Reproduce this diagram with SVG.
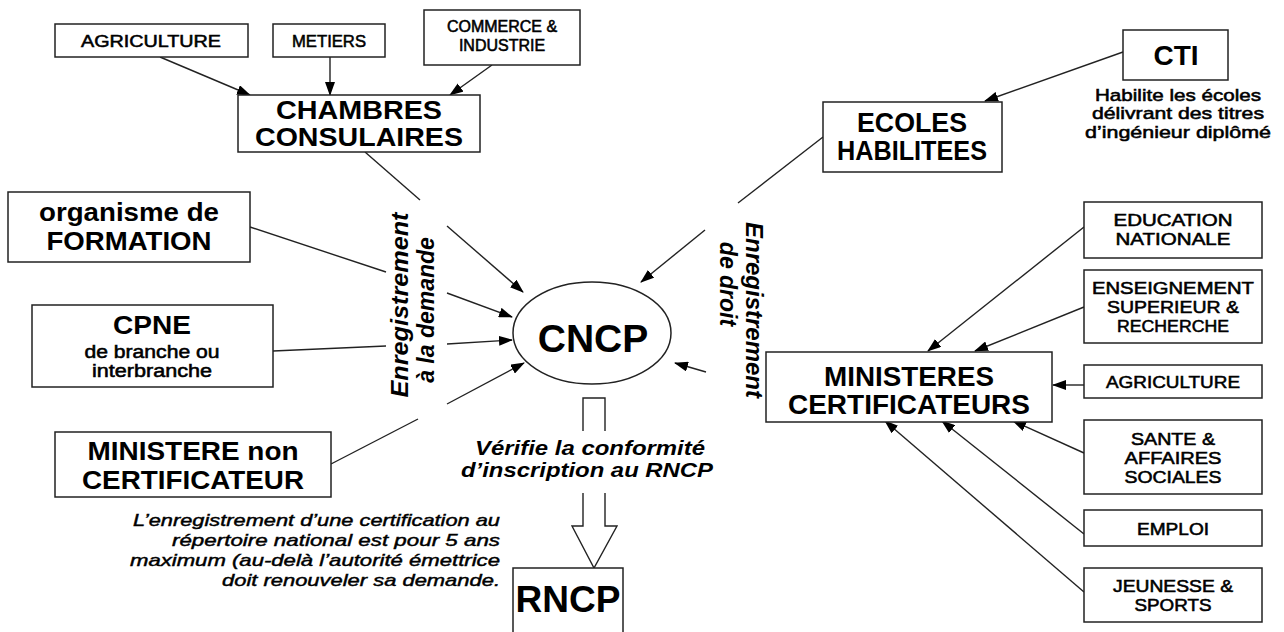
<svg xmlns="http://www.w3.org/2000/svg" width="1284" height="632" viewBox="0 0 1284 632">
<defs>
<style>
.box{fill:#fff;stroke:#222;stroke-width:1.5}
.ln{fill:none;stroke:#222;stroke-width:1.4}
.ar{fill:none;stroke:#222;stroke-width:1.4;marker-end:url(#ah)}
text{font-family:"Liberation Sans",Arial,sans-serif;fill:#000;text-anchor:middle}
.b{font-weight:bold}
.sm{font-weight:normal;stroke:#000;stroke-width:0.55}
.bi{font-weight:bold;font-style:italic}
.it{font-style:italic;stroke:#000;stroke-width:0.45;text-anchor:end}
</style>
<marker id="ah" markerWidth="14" markerHeight="10" refX="13" refY="5" orient="auto" markerUnits="userSpaceOnUse"><path d="M0,0 L14,5 L0,10 z" fill="#000"/></marker>
</defs>
<rect width="1284" height="632" fill="#fff"/>

<g id="connectors">
<line class="ar" x1="160" y1="57" x2="250" y2="95"/>
<line class="ar" x1="330" y1="57" x2="330" y2="95"/>
<line class="ar" x1="492" y1="65" x2="450" y2="95"/>
<line class="ln" x1="365" y1="152" x2="420" y2="200"/>
<line class="ar" x1="447" y1="226" x2="523" y2="292"/>
<line class="ln" x1="250" y1="227" x2="386" y2="272"/>
<line class="ar" x1="447" y1="293" x2="512" y2="317"/>
<line class="ln" x1="273" y1="351" x2="386" y2="346"/>
<line class="ar" x1="447" y1="344" x2="512" y2="340"/>
<line class="ln" x1="331" y1="464" x2="418" y2="419"/>
<line class="ar" x1="447" y1="404" x2="524" y2="363"/>
<line class="ln" x1="823" y1="137" x2="738" y2="203"/>
<line class="ar" x1="705" y1="230" x2="641" y2="282"/>
<line class="ar" x1="706" y1="372" x2="675" y2="363"/>
<line class="ar" x1="1123" y1="52" x2="985" y2="101"/>
<line class="ar" x1="1084" y1="227" x2="928" y2="351"/>
<line class="ar" x1="1084" y1="307" x2="975" y2="351"/>
<line class="ar" x1="1084" y1="385" x2="1053" y2="385"/>
<line class="ar" x1="1084" y1="453" x2="1013" y2="421"/>
<line class="ar" x1="1084" y1="534" x2="942" y2="421"/>
<line class="ar" x1="1084" y1="592" x2="885" y2="421"/>
<path class="ln" d="M583,431 V398 H605 V431"/>
<path class="ln" d="M583,493 V526 H572 L594,568 L617,526 H605 V493"/>
</g>

<g id="agriculture-top"><rect class="box" x="55" y="24" width="193" height="33"/><text class="sm" x="151" y="47" font-size="17" textLength="140" lengthAdjust="spacingAndGlyphs">AGRICULTURE</text></g>
<g id="metiers"><rect class="box" x="273" y="24" width="112" height="33"/><text class="sm" x="329" y="47" font-size="17" textLength="74" lengthAdjust="spacingAndGlyphs">METIERS</text></g>
<g id="commerce"><rect class="box" x="424" y="10" width="156" height="55"/><text class="sm" x="502" y="32" font-size="16">COMMERCE &amp;</text><text class="sm" x="502" y="51" font-size="16">INDUSTRIE</text></g>
<g id="chambres"><rect class="box" x="238" y="95" width="242" height="57"/><text class="b" x="359" y="119" font-size="26" textLength="166" lengthAdjust="spacingAndGlyphs">CHAMBRES</text><text class="b" x="359" y="146" font-size="26" textLength="208" lengthAdjust="spacingAndGlyphs">CONSULAIRES</text></g>

<g id="formation"><rect class="box" x="8" y="192" width="242" height="70"/><text class="b" x="129" y="221" font-size="26" textLength="180" lengthAdjust="spacingAndGlyphs">organisme de</text><text class="b" x="129" y="250" font-size="26" textLength="165" lengthAdjust="spacingAndGlyphs">FORMATION</text></g>
<g id="cpne"><rect class="box" x="32" y="305" width="241" height="82"/><text class="b" x="152" y="334" font-size="26" textLength="78" lengthAdjust="spacingAndGlyphs">CPNE</text><text class="sm" x="152" y="358" font-size="18" textLength="135" lengthAdjust="spacingAndGlyphs">de branche ou</text><text class="sm" x="152" y="377" font-size="18" textLength="120" lengthAdjust="spacingAndGlyphs">interbranche</text></g>
<g id="ministere-non"><rect class="box" x="55" y="432" width="276" height="65"/><text class="b" x="193" y="460" font-size="26" textLength="211" lengthAdjust="spacingAndGlyphs">MINISTERE non</text><text class="b" x="193" y="489" font-size="26" textLength="222" lengthAdjust="spacingAndGlyphs">CERTIFICATEUR</text></g>

<g id="label-demande"><text class="bi" font-size="23" transform="translate(408,305) rotate(-90)" textLength="185" lengthAdjust="spacingAndGlyphs">Enregistrement</text><text class="bi" font-size="23" transform="translate(434,310) rotate(-90)">à la demande</text></g>
<g id="label-droit"><text class="bi" font-size="23" transform="translate(746,310) rotate(90)" textLength="176" lengthAdjust="spacingAndGlyphs">Enregistrement</text><text class="bi" font-size="23" transform="translate(720,284) rotate(90)">de droit</text></g>

<g id="cncp"><ellipse cx="592" cy="333" rx="79" ry="51" fill="#fff" stroke="#222" stroke-width="1.5"/><text class="b" x="593" y="352" font-size="39">CNCP</text></g>

<g id="verifie"><text class="bi" x="590" y="455" font-size="21" textLength="230" lengthAdjust="spacingAndGlyphs">Vérifie la conformité</text><text class="bi" x="587" y="477" font-size="21" textLength="252" lengthAdjust="spacingAndGlyphs">d’inscription au RNCP</text></g>

<g id="rncp"><rect class="box" x="513" y="568" width="110" height="70"/><text class="b" x="568" y="612" font-size="37">RNCP</text></g>

<g id="note"><text class="it" x="500" y="526" font-size="17" textLength="367" lengthAdjust="spacingAndGlyphs">L’enregistrement d’une certification au</text><text class="it" x="500" y="546" font-size="17" textLength="328" lengthAdjust="spacingAndGlyphs">répertoire national est pour 5 ans</text><text class="it" x="500" y="566" font-size="17" textLength="370" lengthAdjust="spacingAndGlyphs">maximum (au-delà l’autorité émettrice</text><text class="it" x="500" y="586" font-size="17" textLength="278" lengthAdjust="spacingAndGlyphs">doit renouveler sa demande.</text></g>

<g id="cti"><rect class="box" x="1123" y="30" width="105" height="50"/><text class="b" x="1176" y="65" font-size="28">CTI</text><text class="sm" x="1178" y="101" font-size="17" textLength="166" lengthAdjust="spacingAndGlyphs">Habilite les écoles</text><text class="sm" x="1178" y="119" font-size="17" textLength="172" lengthAdjust="spacingAndGlyphs">délivrant des titres</text><text class="sm" x="1178" y="138" font-size="17" textLength="186" lengthAdjust="spacingAndGlyphs">d’ingénieur diplômé</text></g>
<g id="ecoles"><rect class="box" x="823" y="102" width="179" height="70"/><text class="b" x="912" y="132" font-size="27" textLength="110" lengthAdjust="spacingAndGlyphs">ECOLES</text><text class="b" x="912" y="160" font-size="27" textLength="150" lengthAdjust="spacingAndGlyphs">HABILITEES</text></g>

<g id="ministeres"><rect class="box" x="766" y="352" width="286" height="70"/><text class="b" x="909" y="386" font-size="27" textLength="170" lengthAdjust="spacingAndGlyphs">MINISTERES</text><text class="b" x="909" y="414" font-size="27" textLength="242" lengthAdjust="spacingAndGlyphs">CERTIFICATEURS</text></g>
<g id="education"><rect class="box" x="1084" y="202" width="178" height="56"/><text class="sm" x="1173" y="226" font-size="17" textLength="119" lengthAdjust="spacingAndGlyphs">EDUCATION</text><text class="sm" x="1173" y="245" font-size="17" textLength="115" lengthAdjust="spacingAndGlyphs">NATIONALE</text></g>
<g id="enseignement"><rect class="box" x="1084" y="270" width="178" height="73"/><text class="sm" x="1173" y="294" font-size="17" textLength="162" lengthAdjust="spacingAndGlyphs">ENSEIGNEMENT</text><text class="sm" x="1173" y="313" font-size="17" textLength="132" lengthAdjust="spacingAndGlyphs">SUPERIEUR &amp;</text><text class="sm" x="1173" y="332" font-size="17" textLength="112" lengthAdjust="spacingAndGlyphs">RECHERCHE</text></g>
<g id="agriculture-right"><rect class="box" x="1084" y="365" width="178" height="33"/><text class="sm" x="1173" y="388" font-size="17" textLength="134" lengthAdjust="spacingAndGlyphs">AGRICULTURE</text></g>
<g id="sante"><rect class="box" x="1084" y="420" width="178" height="74"/><text class="sm" x="1173" y="445" font-size="17" textLength="84" lengthAdjust="spacingAndGlyphs">SANTE &amp;</text><text class="sm" x="1173" y="464" font-size="17" textLength="97" lengthAdjust="spacingAndGlyphs">AFFAIRES</text><text class="sm" x="1173" y="483" font-size="17" textLength="97" lengthAdjust="spacingAndGlyphs">SOCIALES</text></g>
<g id="emploi"><rect class="box" x="1084" y="510" width="178" height="36"/><text class="sm" x="1173" y="535" font-size="17" textLength="72" lengthAdjust="spacingAndGlyphs">EMPLOI</text></g>
<g id="jeunesse"><rect class="box" x="1084" y="568" width="178" height="54"/><text class="sm" x="1173" y="592" font-size="17" textLength="120" lengthAdjust="spacingAndGlyphs">JEUNESSE &amp;</text><text class="sm" x="1173" y="611" font-size="17" textLength="77" lengthAdjust="spacingAndGlyphs">SPORTS</text></g>
</svg>
